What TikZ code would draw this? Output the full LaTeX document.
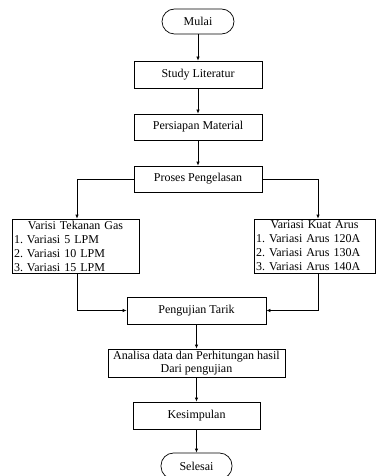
\documentclass[tikz,border=0pt]{standalone}
\usepackage{fontspec}
\setmainfont{Liberation Serif}
\usetikzlibrary{arrows.meta}
\frenchspacing

\begin{document}
\begin{tikzpicture}[
                x=1pt,y=-1pt,
                font=\fontsize{12}{14}\selectfont,
                flowBox/.style={draw=black,line width=0.7pt,rectangle,
                                minimum height=27pt,inner sep=1pt},
                flowTerm/.style={flowBox,rounded corners=12.5pt,
                                 minimum width=72pt,minimum height=25pt},
                flowList/.style={draw=black,line width=0.7pt,rectangle,
                                 align=left,inner xsep=2pt,inner ysep=0pt,
                                 minimum height=54pt},
                flowArrow/.style={draw=black,line width=0.7pt,
                                  -{Latex[length=4pt,width=3.5pt]}}]
                \useasboundingbox (0,0) rectangle (375,476);
                % main column
                \node[flowTerm] (mulai) at (198,21.5) {Mulai};
                \node[flowBox,minimum width=128pt] (study) at (198,74.5) {Study Literatur};
                \node[flowBox,minimum width=128pt,minimum height=26pt] (persiapan) at (198,127) {Persiapan Material};
                \node[flowBox,minimum width=128pt,minimum height=26pt] (proses) at (198,179) {Proses Pengelasan};
                % the two variations
                \node[flowList,text width=123pt] (tekanan) at (75.5,246)
                    {\hfill Varisi Tekanan Gas\hfill\null\\
                     1. Variasi 5 LPM\\
                     2. Variasi 10 LPM\\
                     3. Variasi 15 LPM};
                \node[flowList,text width=117pt] (arus) at (314.5,246)
                    {\hfill Variasi Kuat Arus\hfill\null\\
                     1. Variasi Arus 120A\\
                     2. Variasi Arus 130A\\
                     3. Variasi Arus 140A};
                \node[flowBox,minimum width=139pt] (tarik) at (196.5,310.5) {Pengujian Tarik};
                \node[flowBox,minimum width=177pt,minimum height=28pt,align=center,
                      font=\fontsize{12}{12.5}\selectfont] (analisa) at (196.5,363)
                    {Analisa data dan Perhitungan hasil\\Dari pengujian};
                \node[flowBox,minimum width=127pt] (kesimpulan) at (196.5,415.5) {Kesimpulan};
                \node[flowTerm,minimum width=71pt,minimum height=26pt] (selesai) at (196.5,466) {Selesai};
                % connectors
                \draw[flowArrow] (mulai) -- (study);
                \draw[flowArrow] (study) -- (persiapan);
                \draw[flowArrow] (persiapan) -- (proses);
                \draw[flowArrow] (proses.west) -| ([xshift=1.5pt]tekanan.north);
                \draw[flowArrow] (proses.east) -| ([xshift=3.5pt]arus.north);
                \draw[flowArrow] ([xshift=1.5pt]tekanan.south) |- (tarik.west);
                \draw[flowArrow] ([xshift=3.5pt]arus.south) |- (tarik.east);
                \draw[flowArrow] (tarik) -- (analisa);
                \draw[flowArrow] (analisa) -- (kesimpulan);
                \draw[flowArrow] (kesimpulan) -- (selesai);
            \end{tikzpicture}
\end{document}
